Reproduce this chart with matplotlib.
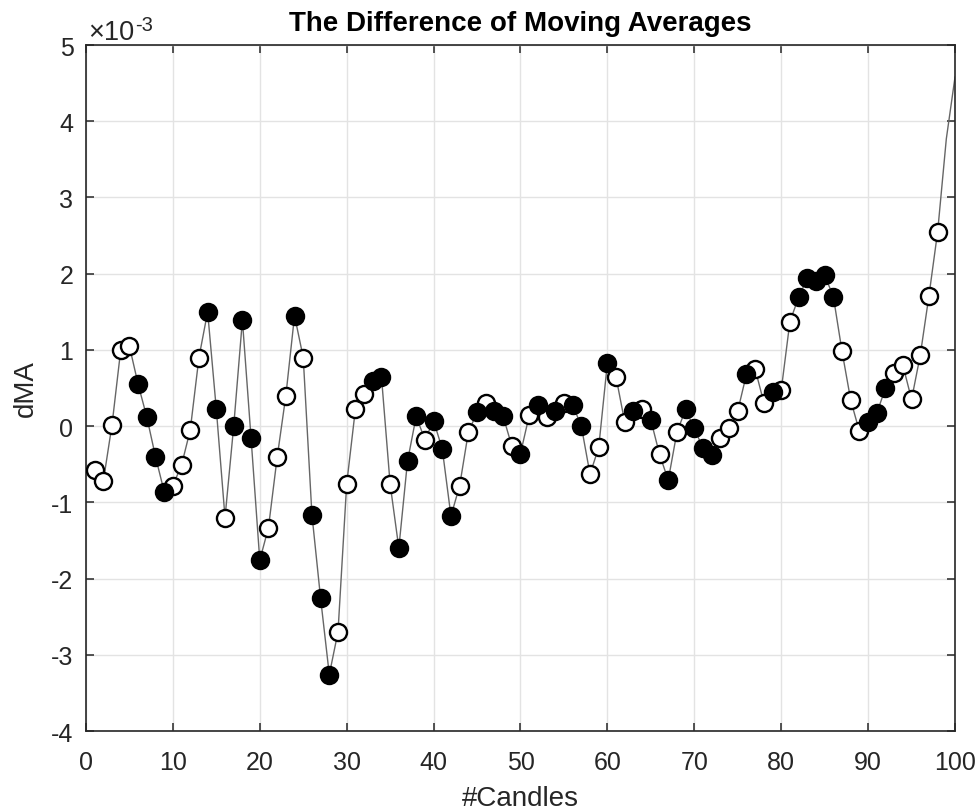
import numpy as np
import matplotlib
matplotlib.use("Agg")
import matplotlib.pyplot as plt
from matplotlib.ticker import FuncFormatter
from matplotlib.transforms import offset_copy

plt.rcParams['font.family'] = ['Liberation Sans', 'DejaVu Sans']
plt.rcParams['axes.unicode_minus'] = False

# Candle index
candles = list(range(1, 101))
# dMA values in units of 1e-3
dma_e3 = [-0.57, -0.72, 0.02, 1.00, 1.05, 0.55, 0.12, -0.40, -0.86, -0.78,
          -0.51, -0.05, 0.90, 1.50, 0.22, -1.20, 0.00, 1.39, -0.16, -1.76,
          -1.33, -0.41, 0.40, 1.45, 0.90, -1.16, -2.26, -3.26, -2.70, -0.76,
          0.22, 0.42, 0.59, 0.65, -0.76, -1.60, -0.46, 0.13, -0.18, 0.07,
          -0.30, -1.18, -0.78, -0.08, 0.18, 0.30, 0.20, 0.13, -0.26, -0.36,
          0.14, 0.28, 0.12, 0.20, 0.30, 0.28, 0.00, -0.63, -0.28, 0.83,
          0.64, 0.05, 0.20, 0.23, 0.08, -0.37, -0.71, -0.08, 0.22, -0.03,
          -0.29, -0.38, -0.15, -0.03, 0.20, 0.68, 0.75, 0.31, 0.45, 0.47,
          1.37, 1.69, 1.94, 1.91, 1.98, 1.70, 0.98, 0.34, -0.07, 0.06,
          0.17, 0.50, 0.70, 0.80, 0.35, 0.93, 1.71, 2.55, 3.77, 4.58]
# Candles drawn with filled markers (the rest of 1..98 are open)
filled_idx = [6, 7, 8, 9, 14, 15, 17, 18, 19, 20, 24, 26, 27, 28, 33, 34, 36, 37,
              38, 40, 41, 42, 45, 47, 48, 50, 52, 54, 56, 57, 60, 63, 65, 67, 69,
              70, 71, 72, 76, 79, 82, 83, 84, 85, 86, 90, 91, 92]
n_markers = 98
x_ticks = list(range(0, 101, 10))
y_ticks_e3 = list(range(-4, 6))

TXT = '#262626'

x = np.array(candles)
y = np.array(dma_e3) * 1e-3

fig = plt.figure(figsize=(9.78, 8.12), dpi=100)
ax = fig.add_axes([0.0879, 0.0985, 0.8886, 0.8448])

ax.plot(x, y, color='#666666', lw=1.0, zorder=2)
mx = x[:n_markers]
my = y[:n_markers]
is_filled = np.isin(mx, filled_idx)
ax.plot(mx[~is_filled], my[~is_filled], 'o', ms=12.3, mfc='white', mec='black', mew=1.7,
        ls='none', zorder=3)
ax.plot(mx[is_filled], my[is_filled], 'o', ms=12.3, mfc='black', mec='black', mew=1.7,
        ls='none', zorder=4)

ax.set_xlim(0, 100)
ax.set_ylim(-4e-3, 5e-3)
ax.set_xticks(x_ticks)
ax.set_yticks(np.array(y_ticks_e3) * 1e-3)
ax.yaxis.set_major_formatter(FuncFormatter(lambda v, p: f'{round(v * 1e3):d}'))

ax.grid(True, color='#e3e3e3', lw=1.0)
ax.set_axisbelow(True)
for s in ax.spines.values():
    s.set_color(TXT)
    s.set_linewidth(1.2)
ax.tick_params(direction='in', length=6, width=1.1, colors=TXT, labelsize=18,
               top=True, right=True, labelcolor=TXT)
ax.tick_params(axis='x', pad=13.5)
ax.tick_params(axis='y', pad=9)

# exponent label (x10^-3)
t1 = ax.text(0.003, 1.0, '\u00d710', fontsize=19.5, color=TXT, ha='left', va='baseline',
             transform=offset_copy(ax.transAxes, fig=fig, x=0, y=4.5, units='points'))
ax.annotate('-3', xy=(1.0, 1.0), xycoords=t1, xytext=(0, 2.5), textcoords='offset points',
            fontsize=14.5, color=TXT, ha='left', va='top')

ax.set_title('The Difference of Moving Averages', fontsize=20, fontweight='bold', pad=10.5,
             color='black')
ax.set_xlabel('#Candles', fontsize=20, color=TXT, labelpad=8)
ax.set_ylabel('dMA', fontsize=20, color=TXT, labelpad=9)

fig.savefig('out.png', dpi=100)
